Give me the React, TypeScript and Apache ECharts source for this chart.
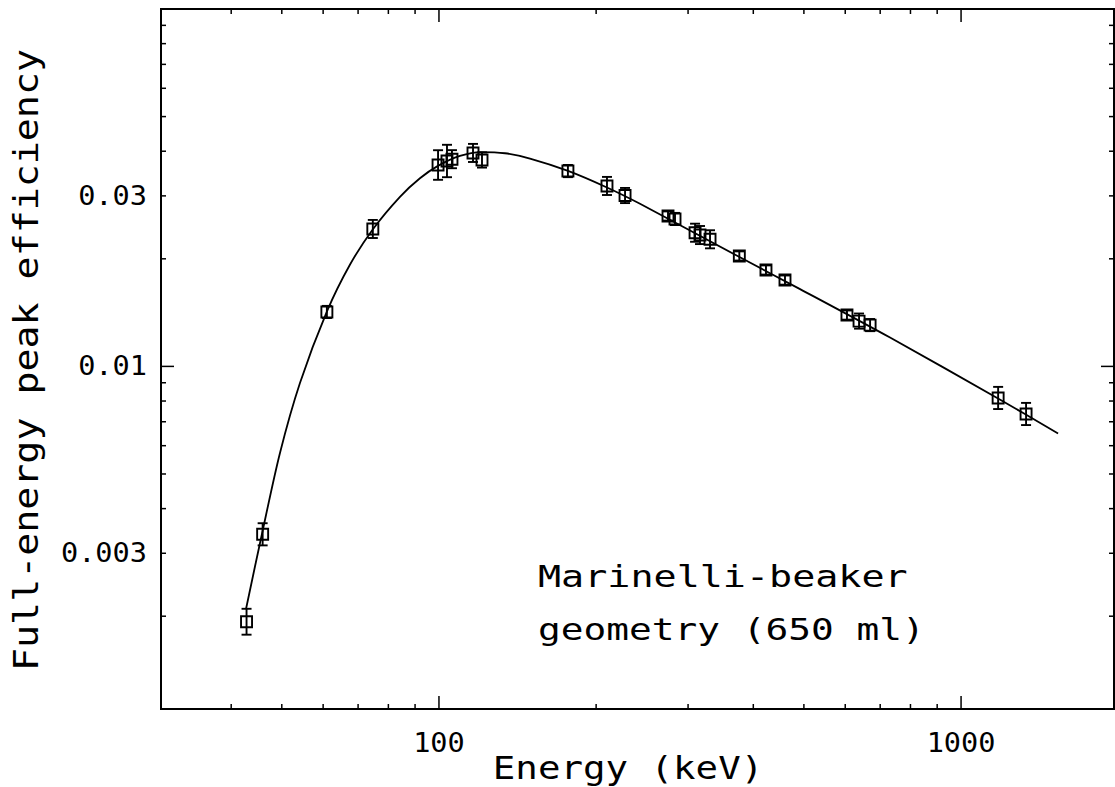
import React, { useEffect, useRef } from "react";
import * as echarts from "echarts";

// ---- axis extents (log scales) ----
const X_MIN = 29.35;
const X_MAX = 1963;
const Y_MIN = 0.0011;
const Y_MAX = 0.1;

// ---- measured points ----
const energyKeV = [42.8, 45.95, 61.0, 74.7, 99.6, 103.6, 105.9, 116.2, 120.9, 176.6, 209.8, 227.2, 274.6, 283.2, 309.4, 316.2, 330.5, 376.1, 423.0, 460.0, 604.6, 637.7, 669.5, 1177.6, 1332];
const efficiency = [0.00193, 0.00339, 0.0142, 0.02424, 0.0366, 0.03756, 0.038, 0.03956, 0.0378, 0.0352, 0.03198, 0.03007, 0.02635, 0.02585, 0.02366, 0.02331, 0.02268, 0.02037, 0.01861, 0.01744, 0.01392, 0.01339, 0.01305, 0.00816, 0.00736];
const errorPct = [8.7, 7.4, 4, 6, 10, 11, 6, 6, 5, 4, 6, 5, 3, 4, 6, 6, 6, 3, 3, 3, 3, 5, 4, 7.4, 7.4];

// ---- fitted efficiency curve ----
const curveEnergy = [42.69, 45.81, 49.6, 54.17, 61.02, 67.52, 74.73, 84.2, 91.96, 99.56, 109.7, 120.33, 133.8, 149.4, 176.7, 209.8, 242.7, 375.6, 491.6, 731.1, 1177.2, 1534];
const curveEff = [0.002092, 0.003397, 0.005724, 0.008985, 0.014253, 0.019246, 0.024206, 0.02982, 0.033597, 0.036391, 0.038799, 0.039784, 0.039477, 0.038154, 0.035237, 0.031667, 0.028505, 0.02026, 0.016454, 0.01204, 0.008131, 0.006492];

// ---- ticks and labels ----
const xMinorTicks = [40, 50, 60, 70, 80, 90, 200, 300, 400, 500, 600, 700, 800, 900];
const xMajorTicks = [100, 1000];
const yMinorTicks = [0.002, 0.003, 0.004, 0.005, 0.006, 0.007, 0.008, 0.009, 0.02, 0.03, 0.04, 0.05, 0.06, 0.07, 0.08, 0.09];
const yMajorTicks = [0.01];
const xLabelValues = [100, 1000];
const xLabelTexts = ["100", "1000"];
const yLabelValues = [0.03, 0.01, 0.003];
const yLabelTexts = ["0.03", "0.01", "0.003"];

const xTitle = "Energy (keV)";
const yTitle = "Full-energy peak efficiency";
const noteLines = ["Marinelli-beaker", "geometry (650 ml)"];

const FONT = "'DejaVu Sans Mono', 'Liberation Mono', monospace";
const INK = "#000";

function tickSeries(values: number[], axis: "x" | "y", len: number) {
  return {
    type: "custom",
    coordinateSystem: "cartesian2d",
    silent: true,
    clip: false,
    z: 5,
    data: values.map((v) => (axis === "x" ? [v, Y_MIN] : [X_MIN, v])),
    renderItem: (params: any, api: any) => {
      const st = { stroke: INK, lineWidth: 1.5 };
      if (axis === "x") {
        const v = api.value(0);
        const a = api.coord([v, Y_MIN]);
        const b = api.coord([v, Y_MAX]);
        return {
          type: "group",
          children: [
            { type: "line", shape: { x1: a[0], y1: a[1], x2: a[0], y2: a[1] - len }, style: st },
            { type: "line", shape: { x1: b[0], y1: b[1], x2: b[0], y2: b[1] + len }, style: st },
          ],
        };
      }
      const v = api.value(1);
      const a = api.coord([X_MIN, v]);
      const b = api.coord([X_MAX, v]);
      return {
        type: "group",
        children: [
          { type: "line", shape: { x1: a[0], y1: a[1], x2: a[0] + len, y2: a[1] }, style: st },
          { type: "line", shape: { x1: b[0], y1: b[1], x2: b[0] - len, y2: b[1] }, style: st },
        ],
      };
    },
  };
}

function labelSeries(values: number[], texts: string[], axis: "x" | "y") {
  return {
    type: "custom",
    coordinateSystem: "cartesian2d",
    silent: true,
    clip: false,
    z: 5,
    data: values.map((v) => (axis === "x" ? [v, Y_MIN] : [X_MIN, v])),
    renderItem: (params: any, api: any) => {
      const t = texts[params.dataIndex];
      const p = api.coord([api.value(0), api.value(1)]);
      if (axis === "x") {
        return {
          type: "text",
          x: p[0],
          y: p[1] + 34,
          scaleX: 1.1,
          style: { text: t, x: 0, y: 0, fill: INK, fontSize: 26, fontFamily: FONT, align: "center", verticalAlign: "middle", textAlign: "center", textVerticalAlign: "middle" },
        };
      }
      return {
        type: "text",
        x: p[0] - 14,
        y: p[1],
        scaleX: 1.1,
        style: { text: t, x: 0, y: 0, fill: INK, fontSize: 26, fontFamily: FONT, align: "right", verticalAlign: "middle", textAlign: "right", textVerticalAlign: "middle" },
      };
    },
  };
}

export default function App() {
  const ref = useRef<HTMLDivElement>(null);

  useEffect(() => {
    if (!ref.current) return;
    const chart = echarts.init(ref.current, null, { renderer: "svg" });
    const CAP = 5;
    const option: any = {
      animation: false,
      backgroundColor: "#fff",
      grid: { left: 161, top: 9, width: 953, height: 700, show: true, borderColor: INK, borderWidth: 2, backgroundColor: "transparent", containLabel: false },
      xAxis: {
        type: "log",
        logBase: 10,
        min: X_MIN,
        max: X_MAX,
        axisLine: { show: false },
        axisTick: { show: false },
        axisLabel: { show: false },
        splitLine: { show: false },
      },
      yAxis: {
        type: "log",
        logBase: 10,
        min: Y_MIN,
        max: Y_MAX,
        axisLine: { show: false },
        axisTick: { show: false },
        axisLabel: { show: false },
        splitLine: { show: false },
      },
      graphic: [
        {
          type: "text",
          x: 628,
          y: 768,
          scaleX: 1.17,
          style: { text: xTitle, x: 0, y: 0, fill: INK, fontSize: 32, fontFamily: FONT, textAlign: "center", textVerticalAlign: "middle", align: "center", verticalAlign: "middle" },
        },
        {
          type: "text",
          x: 26,
          y: 360,
          rotation: Math.PI / 2,
          scaleX: 1.16,
          style: { text: yTitle, x: 0, y: 0, fill: INK, fontSize: 33, fontFamily: FONT, textAlign: "center", textVerticalAlign: "middle", align: "center", verticalAlign: "middle" },
        },
        {
          type: "text",
          x: 538,
          y: 577,
          scaleX: 1.28,
          style: { text: noteLines[0], x: 0, y: 0, fill: INK, fontSize: 30, fontFamily: FONT, textAlign: "left", textVerticalAlign: "middle", align: "left", verticalAlign: "middle" },
        },
        {
          type: "text",
          x: 538,
          y: 629,
          scaleX: 1.26,
          style: { text: noteLines[1], x: 0, y: 0, fill: INK, fontSize: 30, fontFamily: FONT, textAlign: "left", textVerticalAlign: "middle", align: "left", verticalAlign: "middle" },
        },
      ],
      series: [
        {
          type: "line",
          data: curveEnergy.map((e, i) => [e, curveEff[i]]),
          showSymbol: false,
          symbol: "none",
          smooth: 0.3,
          lineStyle: { color: INK, width: 1.8 },
          silent: true,
          z: 2,
        },
        {
          type: "custom",
          coordinateSystem: "cartesian2d",
          silent: true,
          z: 3,
          data: energyKeV.map((e, i) => [e, efficiency[i], errorPct[i]]),
          renderItem: (params: any, api: any) => {
            const e = api.value(0);
            const v = api.value(1);
            const p = api.value(2) / 100;
            const c = api.coord([e, v]);
            const hi = api.coord([e, v * (1 + p)]);
            const lo = api.coord([e, v / (1 + p)]);
            const st = { stroke: INK, lineWidth: 1.9, fill: "none" };
            return {
              type: "group",
              children: [
                { type: "line", shape: { x1: c[0], y1: hi[1], x2: c[0], y2: lo[1] }, style: st },
                { type: "line", shape: { x1: c[0] - CAP, y1: hi[1], x2: c[0] + CAP, y2: hi[1] }, style: st },
                { type: "line", shape: { x1: c[0] - CAP, y1: lo[1], x2: c[0] + CAP, y2: lo[1] }, style: st },
                { type: "rect", shape: { x: c[0] - 5.5, y: c[1] - 5.5, width: 11, height: 11 }, style: st },
              ],
            };
          },
        },
        tickSeries(xMinorTicks, "x", 5),
        tickSeries(xMajorTicks, "x", 13),
        tickSeries(yMinorTicks, "y", 5),
        tickSeries(yMajorTicks, "y", 13),
        labelSeries(xLabelValues, xLabelTexts, "x"),
        labelSeries(yLabelValues, yLabelTexts, "y"),
      ],
    };
    chart.setOption(option);
    return () => chart.dispose();
  }, []);

  return (
    <div
      ref={ref}
      style={{ position: "fixed", left: 0, top: 0, width: 1115, height: 787, background: "#fff" }}
    />
  );
}
